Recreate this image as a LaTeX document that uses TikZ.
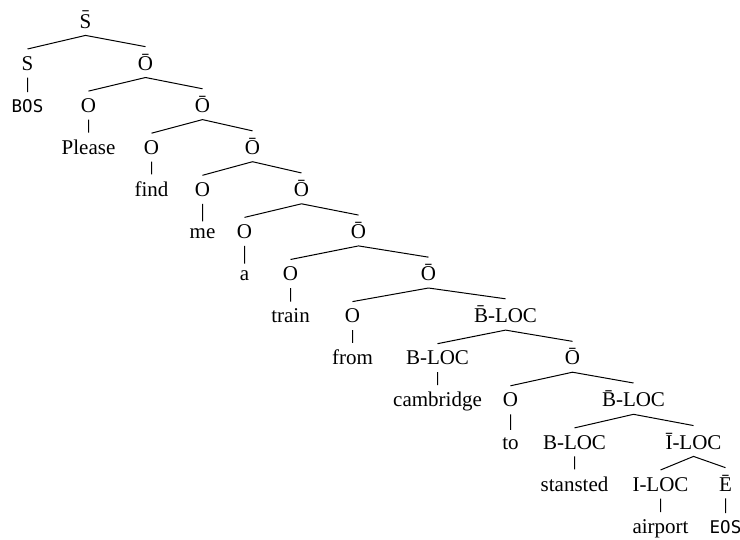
\documentclass[tikz,border=0pt]{standalone}
\usepackage{fontspec}
\setmainfont{Liberation Serif}
\newfontfamily\monofont{DejaVu Sans Mono}
\tikzset{
  lab/.style={anchor=base, inner xsep=1pt, inner ysep=7pt, font=\fontsize{21}{25}\selectfont},
  tok/.style={lab, font=\monofont\fontsize{17.5}{20}\selectfont},
  edge/.style={draw=black, line width=1pt}
}
\begin{document}
\begin{tikzpicture}[x=1pt, y=-1pt]
\useasboundingbox (0,0) rectangle (740,539);
\begin{scope}[xshift=0.5pt]
% row 0
\node[lab] (root) at (85,28) {\=S};
% row 1
\node[lab] (s1) at (27,70.1) {S};
\node[lab] (o1) at (145,70.1) {\=O};
% row 2
\node[tok] (bos) at (27,112.2) {BOS};
\node[lab] (n2) at (88,112.2) {O};
\node[lab] (o2) at (202,112.2) {\=O};
% row 3
\node[lab] (please) at (88,154.3) {Please};
\node[lab] (n3) at (151,154.3) {O};
\node[lab] (o3) at (252,154.3) {\=O};
% row 4
\node[lab] (find) at (151,196.4) {find};
\node[lab] (n4) at (202,196.4) {O};
\node[lab] (o4) at (301,196.4) {\=O};
% row 5
\node[lab] (me) at (202,238.5) {me};
\node[lab] (n5) at (244,238.5) {O};
\node[lab] (o5) at (358,238.5) {\=O};
% row 6
\node[lab] (a) at (244,280.6) {a};
\node[lab] (n6) at (290,280.6) {O};
\node[lab] (o6) at (428,280.6) {\=O};
% row 7
\node[lab] (train) at (290,322.7) {train};
\node[lab] (n7) at (352,322.7) {O};
\node[lab] (b7) at (505,322.7) {\=B-LOC};
% row 8
\node[lab] (from) at (352,364.8) {from};
\node[lab] (b8) at (437,364.8) {B-LOC};
\node[lab] (o8) at (572,364.8) {\=O};
% row 9
\node[lab] (cambridge) at (437,406.9) {cambridge};
\node[lab] (n9) at (510,406.9) {O};
\node[lab] (b9) at (633,406.9) {\=B-LOC};
% row 10
\node[lab] (to) at (510,449) {to};
\node[lab] (b10) at (574,449) {B-LOC};
\node[lab] (i10) at (693,449) {\=I-LOC};
% row 11
\node[lab] (stansted) at (574,491.1) {stansted};
\node[lab] (i11) at (660,491.1) {I-LOC};
\node[lab] (e11) at (725,491.1) {\=E};
% row 12
\node[lab] (airport) at (660,533.2) {airport};
\node[tok] (eos) at (725,533.2) {EOS};
% edges
\path[edge]
  (root.south) -- (s1.north)
  (root.south) -- (o1.north)
  (s1.south) -- (bos.north)
  (o1.south) -- (n2.north)
  (o1.south) -- (o2.north)
  (n2.south) -- (please.north)
  (o2.south) -- (n3.north)
  (o2.south) -- (o3.north)
  (n3.south) -- (find.north)
  (o3.south) -- (n4.north)
  (o3.south) -- (o4.north)
  (n4.south) -- (me.north)
  (o4.south) -- (n5.north)
  (o4.south) -- (o5.north)
  (n5.south) -- (a.north)
  (o5.south) -- (n6.north)
  (o5.south) -- (o6.north)
  (n6.south) -- (train.north)
  (o6.south) -- (n7.north)
  (o6.south) -- (b7.north)
  (n7.south) -- (from.north)
  (b7.south) -- (b8.north)
  (b7.south) -- (o8.north)
  (b8.south) -- (cambridge.north)
  (o8.south) -- (n9.north)
  (o8.south) -- (b9.north)
  (n9.south) -- (to.north)
  (b9.south) -- (b10.north)
  (b9.south) -- (i10.north)
  (b10.south) -- (stansted.north)
  (i10.south) -- (i11.north)
  (i10.south) -- (e11.north)
  (i11.south) -- (airport.north)
  (e11.south) -- (eos.north);
\end{scope}
\end{tikzpicture}
\end{document}
